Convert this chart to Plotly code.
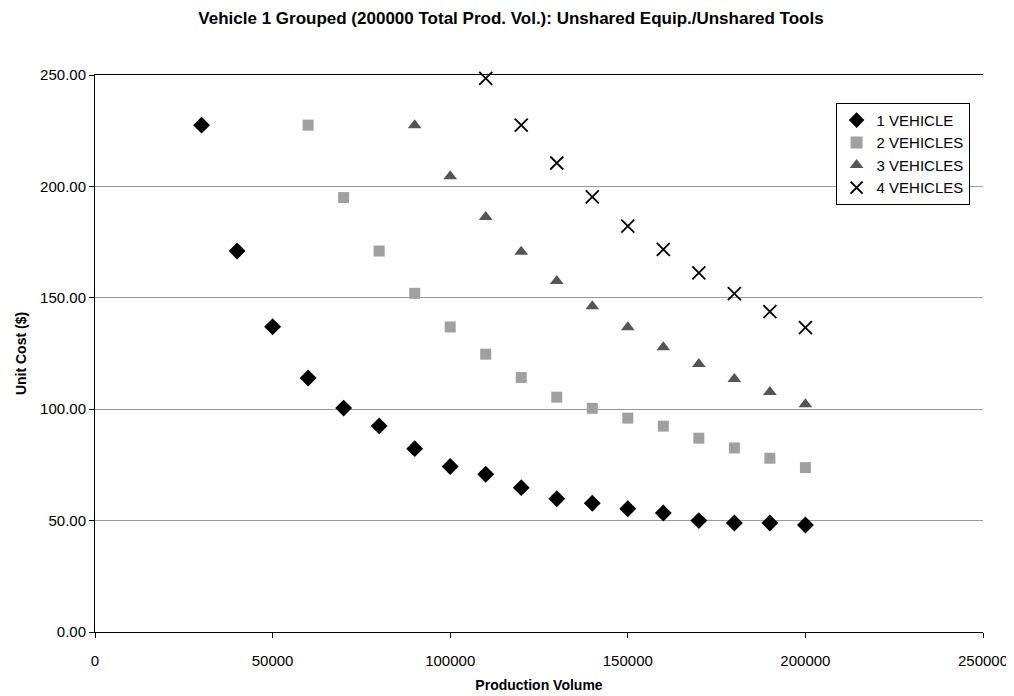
import plotly.graph_objects as go

# Volumes de production (axe x)
volume = [30000, 40000, 50000, 60000, 70000, 80000, 90000, 100000, 110000,
          120000, 130000, 140000, 150000, 160000, 170000, 180000, 190000, 200000]

cost_1_vehicle = [227.5, 171.0, 137.0, 114.0, 100.5, 92.5, 82.3, 74.3, 70.8,
                  64.8, 59.8, 57.8, 55.3, 53.4, 50.0, 48.9, 48.9, 48.0]
cost_2_vehicles = [227.5, 195.0, 171.0, 152.0, 136.9, 124.7, 114.2, 105.4, 100.4,
                   96.0, 92.4, 87.0, 82.6, 78.0, 73.8]
cost_3_vehicles = [227.5, 204.6, 186.3, 170.7, 157.5, 146.2, 136.8, 127.8,
                   120.3, 113.6, 107.7, 102.2]
cost_4_vehicles = [248.5, 227.5, 210.5, 195.3, 182.2, 171.7, 161.2, 151.9,
                   143.8, 136.6]

series = [
    ("1 VEHICLE", volume, cost_1_vehicle,
     dict(symbol="diamond", size=13, color="black")),
    ("2 VEHICLES", volume[3:], cost_2_vehicles,
     dict(symbol="square", size=11, color="#a0a0a0")),
    ("3 VEHICLES", volume[6:], cost_3_vehicles,
     dict(symbol="triangle-up", size=12, color="#555555")),
    ("4 VEHICLES", volume[8:], cost_4_vehicles,
     dict(symbol="x-thin-open", size=13, color="black",
          line=dict(width=1.8, color="black"))),
]

fig = go.Figure()
for name, xs, ys, marker in series:
    fig.add_trace(go.Scatter(x=xs, y=ys, mode="markers", name=name,
                             marker=marker, cliponaxis=False))

# la page a une marge de 8px autour du graphique
fig.update_layout(
    width=1006,
    height=688,
    plot_bgcolor="white",
    paper_bgcolor="white",
    font=dict(family="Liberation Sans, Arial", size=14, color="black"),
    margin=dict(l=87, r=31, t=67, b=64),
    title=dict(
        text="<b>Vehicle 1 Grouped (200000 Total Prod. Vol.): Unshared Equip./Unshared Tools</b>",
        x=0.5, xanchor="center", y=1 - 10 / 688, yanchor="middle",
        font=dict(size=17),
    ),
    xaxis=dict(
        title=dict(text="<b>Production Volume</b>", font=dict(size=14), standoff=12),
        range=[0, 250000],
        dtick=50000,
        tickformat="d",
        tickfont=dict(size=15),
        ticklabelstandoff=10,
        showgrid=False,
        zeroline=False,
        showline=True,
        linecolor="black",
        linewidth=1,
        mirror=True,
        ticks="outside",
        ticklen=5,
        tickcolor="black",
        automargin=False,
    ),
    yaxis=dict(
        title=dict(text="<b>Unit Cost ($)</b>", font=dict(size=14), standoff=10),
        range=[0, 250],
        dtick=50,
        tickformat=".2f",
        tickfont=dict(size=15),
        showgrid=True,
        gridcolor="#9a9a9a",
        gridwidth=1,
        zeroline=False,
        showline=True,
        linecolor="black",
        linewidth=1,
        ticks="outside",
        ticklen=5,
        tickcolor="black",
        automargin=False,
    ),
    legend=dict(
        x=0.834, y=0.95, xanchor="left", yanchor="top",
        bgcolor="white",
        bordercolor="black",
        borderwidth=1,
        font=dict(size=15),
        itemsizing="constant",
        itemwidth=30,
        tracegroupgap=0,
    ),
)

fig.write_html("out.html")
